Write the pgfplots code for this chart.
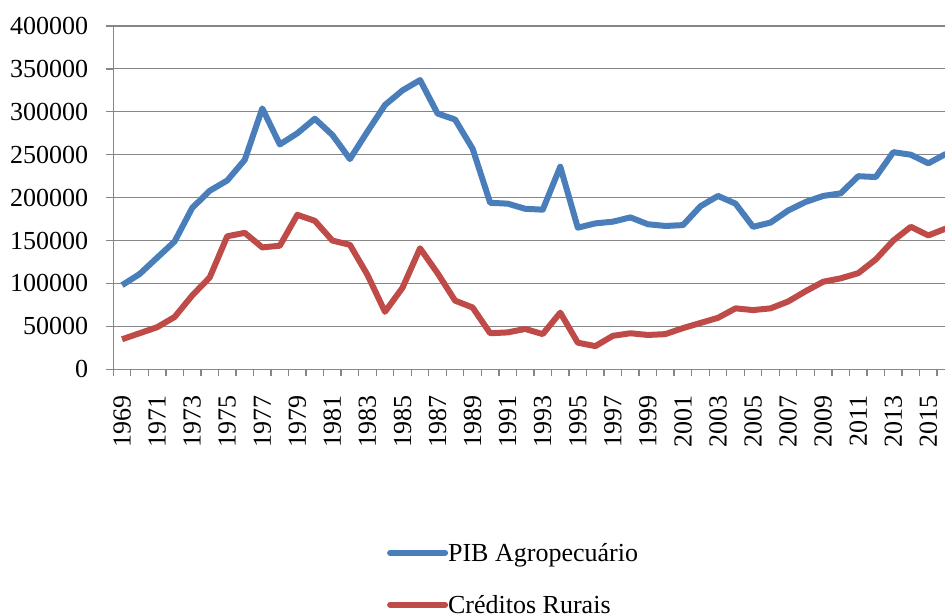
\documentclass[border=0pt]{standalone}
\usepackage{fontspec}
\setmainfont{Liberation Serif}
\usepackage{pgfplots}
\pgfplotsset{compat=1.18}
\usepackage{pgfplotstable}
\definecolor{pibblue}{HTML}{4A7EBB}
\definecolor{credred}{HTML}{BE4B48}
\definecolor{gridgray}{HTML}{868686}
\pgfplotstableread{
year pib cred
1969 98000 35000
1970 111000 42000
1971 130000 49000
1972 149000 61000
1973 188000 86000
1974 208000 107000
1975 220000 155000
1976 244000 159000
1977 304000 142000
1978 262000 144000
1979 275000 180000
1980 292000 173000
1981 273000 150000
1982 245000 145000
1983 277000 110000
1984 308000 67000
1985 325000 95000
1986 337000 141000
1987 298000 112000
1988 291000 80000
1989 257000 72000
1990 194000 42000
1991 193000 43000
1992 187000 47000
1993 186000 41000
1994 236000 66000
1995 165000 31000
1996 170000 27000
1997 172000 39000
1998 177000 42000
1999 169000 40000
2000 167000 41000
2001 168000 48000
2002 190000 54000
2003 202000 60000
2004 193000 71000
2005 166000 69000
2006 171000 71000
2007 185000 79000
2008 195000 91000
2009 202000 102000
2010 205000 106000
2011 225000 112000
2012 224000 128000
2013 253000 150000
2014 250000 166000
2015 240000 156000
2016 251000 164000
}\datatable
\begin{document}
\begin{tikzpicture}
\begin{axis}[
  at={(113.3bp,245.7bp)}, anchor=south west,
  scale only axis, width=831.7bp, height=343.3bp,
  font=\fontsize{26bp}{31bp}\selectfont,
  xmin=1968.5, xmax=2015.95,
  ymin=0, ymax=400000,
  clip=false,
  axis x line*=bottom, axis y line*=left,
  axis line style={draw=gridgray, line width=1.3bp, -},
  ytick={0,50000,...,400000},
  ymajorgrids, grid style={draw=gridgray, line width=1.1bp},
  scaled y ticks=false,
  /pgf/number format/assume math mode=true,
  yticklabel={\pgfmathprintnumber[fixed,1000 sep={}]{\tick}},
  yticklabel style={inner sep=0pt, xshift=-18bp},
  xtick={1968.5,1969.5,...,2015.5},
  xticklabels={},
  tick align=outside,
  major tick length=7bp,
  tick style={draw=gridgray, line width=1.3bp},
  extra x ticks={1969,1971,...,2015},
  extra x tick labels={1969,1971,1973,1975,1977,1979,1981,1983,1985,1987,1989,1991,1993,1995,1997,1999,2001,2003,2005,2007,2009,2011,2013,2015},
  extra x tick style={major tick length=0pt, tick style={draw=none},
    xticklabel style={rotate=90, anchor=east, inner sep=0pt, yshift=0bp, xshift=-26bp}},
  legend style={draw=none, fill=none, at={(axis description cs:0.3254,-0.502)}, anchor=north west,
    nodes={inner sep=0pt, text height=18bp, text depth=6bp}, row sep=28bp,
    font=\fontsize{26bp}{31bp}\selectfont},
  legend cell align=left,
  legend image code/.code={\draw[#1, line width=6bp, line cap=round] (0bp,3bp) -- (55bp,3bp);},
]
\addplot[pibblue, line width=6bp, line join=round] table[x=year, y=pib] {\datatable};
\addlegendentry{PIB Agropecuário}
\addplot[credred, line width=6bp, line join=round] table[x=year, y=cred] {\datatable};
\addlegendentry{Créditos Rurais}
\end{axis}
\pgfresetboundingbox
\path (0,0) rectangle (945bp,615bp);
\end{tikzpicture}
\end{document}
